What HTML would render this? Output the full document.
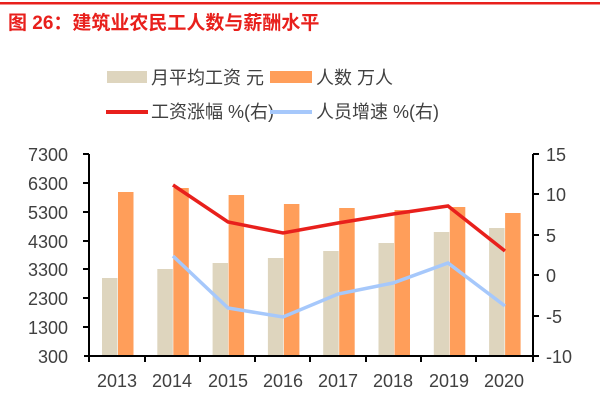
<!DOCTYPE html>
<html><head><meta charset="utf-8"><style>
body{margin:0;background:#fff;width:600px;height:400px;overflow:hidden}
svg text{font-family:"Liberation Sans","Noto Sans CJK SC",sans-serif}
</style></head><body>
<svg width="600" height="400" xmlns="http://www.w3.org/2000/svg">
<rect x="0" y="2" width="600" height="2.5" fill="#e8201c"/>
<text x="8" y="29" font-size="19" font-weight="bold" fill="#e8201c">图 26：建筑业农民工人数与薪酬水平</text>
<g font-size="18" fill="#404040">
<rect x="107" y="71" width="40" height="12" fill="#ded5be"/><text x="151" y="84">月平均工资 元</text>
<rect x="270" y="71" width="42" height="12" fill="#ff9e5a"/><text x="316" y="84">人数 万人</text>
<rect x="106" y="110" width="42" height="4" fill="#e8201c"/><text x="151" y="118">工资涨幅 %(右)</text>
<rect x="270" y="110" width="42" height="4" fill="#a6c8fb"/><text x="316" y="118">人员增速 %(右)</text>
</g>
<g fill="#ded5be">
<rect x="102" y="278" width="15.5" height="78"/><rect x="157.3" y="269" width="15.5" height="87"/><rect x="212.6" y="263" width="15.5" height="93"/><rect x="267.9" y="258" width="15.5" height="98"/><rect x="323.2" y="251" width="15.5" height="105"/><rect x="378.5" y="243" width="15.5" height="113"/><rect x="433.8" y="232" width="15.5" height="124"/><rect x="489.1" y="228" width="15.5" height="128"/>
</g>
<g fill="#ff9e5a">
<rect x="118" y="192" width="15.5" height="164"/><rect x="173.3" y="188" width="15.5" height="168"/><rect x="228.6" y="195" width="15.5" height="161"/><rect x="283.9" y="204" width="15.5" height="152"/><rect x="339.2" y="208" width="15.5" height="148"/><rect x="394.5" y="210" width="15.5" height="146"/><rect x="449.8" y="207" width="15.5" height="149"/><rect x="505.1" y="213" width="15.5" height="143"/>
</g>
<polyline points="173,185 228,222 283,233 338,223 393,214 448,206 505,251" fill="none" stroke="#e8201c" stroke-width="3.5"/>
<polyline points="173,256 228,308 283,317 338,294 393,283 448,263 505,306" fill="none" stroke="#a6c8fb" stroke-width="3.5"/>
<g stroke="#000" stroke-width="2" fill="none">
<path d="M89,154V356M533,154V356M84,356H538"/>
<path d="M83,154H89M83,183H89M83,212H89M83,241H89M83,269H89M83,298H89M83,327H89"/>
<path d="M533,154H539M533,194H539M533,235H539M533,275H539M533,316H539M533,356H539"/>
<path d="M145,356v6M200,356v6M255,356v6M310,356v6M366,356v6M421,356v6M476,356v6M533,356v6M89,356v6"/>
</g>
<g font-size="18" fill="#404040" text-anchor="end">
<text x="68" y="161">7300</text><text x="68" y="190">6300</text><text x="68" y="219">5300</text><text x="68" y="248">4300</text><text x="68" y="276">3300</text><text x="68" y="305">2300</text><text x="68" y="334">1300</text><text x="68" y="363">300</text>
</g>
<g font-size="18" fill="#404040">
<text x="546" y="161">15</text><text x="546" y="201">10</text><text x="546" y="242">5</text><text x="546" y="282">0</text><text x="546" y="323">-5</text><text x="546" y="363">-10</text>
</g>
<g font-size="18" fill="#404040" text-anchor="middle">
<text x="117" y="387">2013</text><text x="172" y="387">2014</text><text x="228" y="387">2015</text><text x="283" y="387">2016</text><text x="338" y="387">2017</text><text x="393" y="387">2018</text><text x="449" y="387">2019</text><text x="504" y="387">2020</text>
</g>
</svg>
</body></html>
